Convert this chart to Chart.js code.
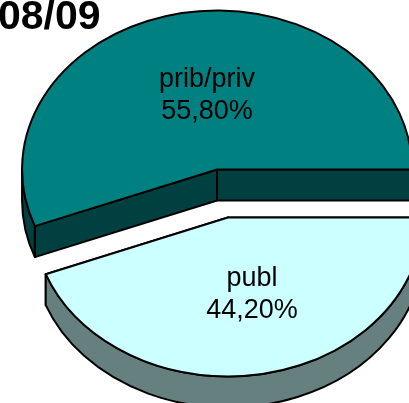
<!DOCTYPE html>
<html>
<head>
<meta charset="utf-8">
<script src="https://cdn.jsdelivr.net/npm/chart.js@4"></script>
<style>
    body { margin: 0; background: #fff; }
    .wrap { position: relative; width: 409px; height: 403px; overflow: hidden; }
    .title {
        position: absolute; left: -2px; top: -5px;
        font: bold 41px/40px "Liberation Sans", Arial, sans-serif;
        color: #000; z-index: 2;
    }
</style>
</head>
<body>
<div class="wrap">
    <div class="title">08/09</div>
    <canvas id="pieChart"></canvas>
</div>
<script>
const categories = ['publ', 'prib/priv'];
const shares = [44.2, 55.8];

const topColors = ['#CCFFFF', '#008080'];
const sideColors = ['#668080', '#004040'];
const tilt = 0.815;      // vertical squash of the pie
const depth = 31;        // thickness in px
const labelPos = 0.485;  // label distance along the radius
const labelShiftX = 7;
const lineGap = 32;

function sliceCenter(arc) {
    const p = arc.getProps(['x', 'y', 'startAngle', 'endAngle', 'outerRadius'], true);
    const mid = (p.startAngle + p.endAngle) / 2;
    const off = arc.options.offset || 0;
    return {
        x: p.x + Math.cos(mid) * off,
        y: p.y + Math.sin(mid) * off * tilt,
        r: p.outerRadius,
        a0: p.startAngle,
        a1: p.endAngle,
        mid: mid
    };
}

function drawSlice(ctx, s, top, side) {
    const ry = s.r * tilt;
    ctx.lineWidth = 2;
    ctx.lineJoin = 'round';
    ctx.strokeStyle = '#000';

    // cut faces
    [s.a0, s.a1].forEach(a => {
        const ex = s.x + s.r * Math.cos(a);
        const ey = s.y + ry * Math.sin(a);
        ctx.beginPath();
        ctx.moveTo(s.x, s.y);
        ctx.lineTo(ex, ey);
        ctx.lineTo(ex, ey + depth);
        ctx.lineTo(s.x, s.y + depth);
        ctx.closePath();
        ctx.fillStyle = side;
        ctx.fill();
        ctx.stroke();
    });

    // outer wall, front half only
    for (let k = -1; k <= 2; k++) {
        const lo = Math.max(s.a0, k * 2 * Math.PI);
        const hi = Math.min(s.a1, k * 2 * Math.PI + Math.PI);
        if (hi <= lo) continue;
        ctx.beginPath();
        ctx.ellipse(s.x, s.y, s.r, ry, 0, lo, hi);
        ctx.ellipse(s.x, s.y + depth, s.r, ry, 0, hi, lo, true);
        ctx.closePath();
        ctx.fillStyle = side;
        ctx.fill();
        ctx.stroke();
    }

    // top face
    ctx.beginPath();
    ctx.moveTo(s.x, s.y);
    ctx.ellipse(s.x, s.y, s.r, ry, 0, s.a0, s.a1);
    ctx.closePath();
    ctx.fillStyle = top;
    ctx.fill();
    ctx.stroke();
}

const pie3d = {
    id: 'pie3d',
    beforeDatasetsDraw(chart) {
        const ctx = chart.ctx;
        const arcs = chart.getDatasetMeta(0).data;
        const slices = arcs.map(a => sliceCenter(a));
        const order = slices.map((s, i) => i)
            .sort((i, j) => Math.sin(slices[i].mid) - Math.sin(slices[j].mid));

        ctx.save();
        order.forEach(i => drawSlice(ctx, slices[i], topColors[i], sideColors[i]));

        ctx.fillStyle = '#000';
        ctx.font = '27px "Liberation Sans", Arial, sans-serif';
        ctx.textAlign = 'center';
        ctx.textBaseline = 'alphabetic';
        slices.forEach((s, i) => {
            const lx = s.x + s.r * labelPos * Math.cos(s.mid) + labelShiftX;
            const ly = s.y + s.r * tilt * labelPos * Math.sin(s.mid);
            const pct = shares[i].toFixed(2).replace('.', ',') + '%';
            ctx.fillText(categories[i], lx, ly - lineGap / 2 + 9);
            ctx.fillText(pct, lx, ly + lineGap / 2 + 9);
        });
        ctx.restore();
        return false;
    }
};

new Chart(document.getElementById('pieChart'), {
    type: 'pie',
    data: {
        labels: categories,
        datasets: [{
            data: shares,
            backgroundColor: topColors,
            borderColor: '#000',
            borderWidth: 1,
            offset: 30,
            radius: 195
        }]
    },
    options: {
        responsive: true,
        maintainAspectRatio: false,
        animation: false,
        events: [],
        rotation: 90,
        layout: { padding: { left: 36, right: 0, top: 0, bottom: 16 } },
        plugins: {
            legend: { display: false },
            tooltip: { enabled: false },
            title: { display: false }
        }
    },
    plugins: [pie3d]
});
</script>
</body>
</html>
